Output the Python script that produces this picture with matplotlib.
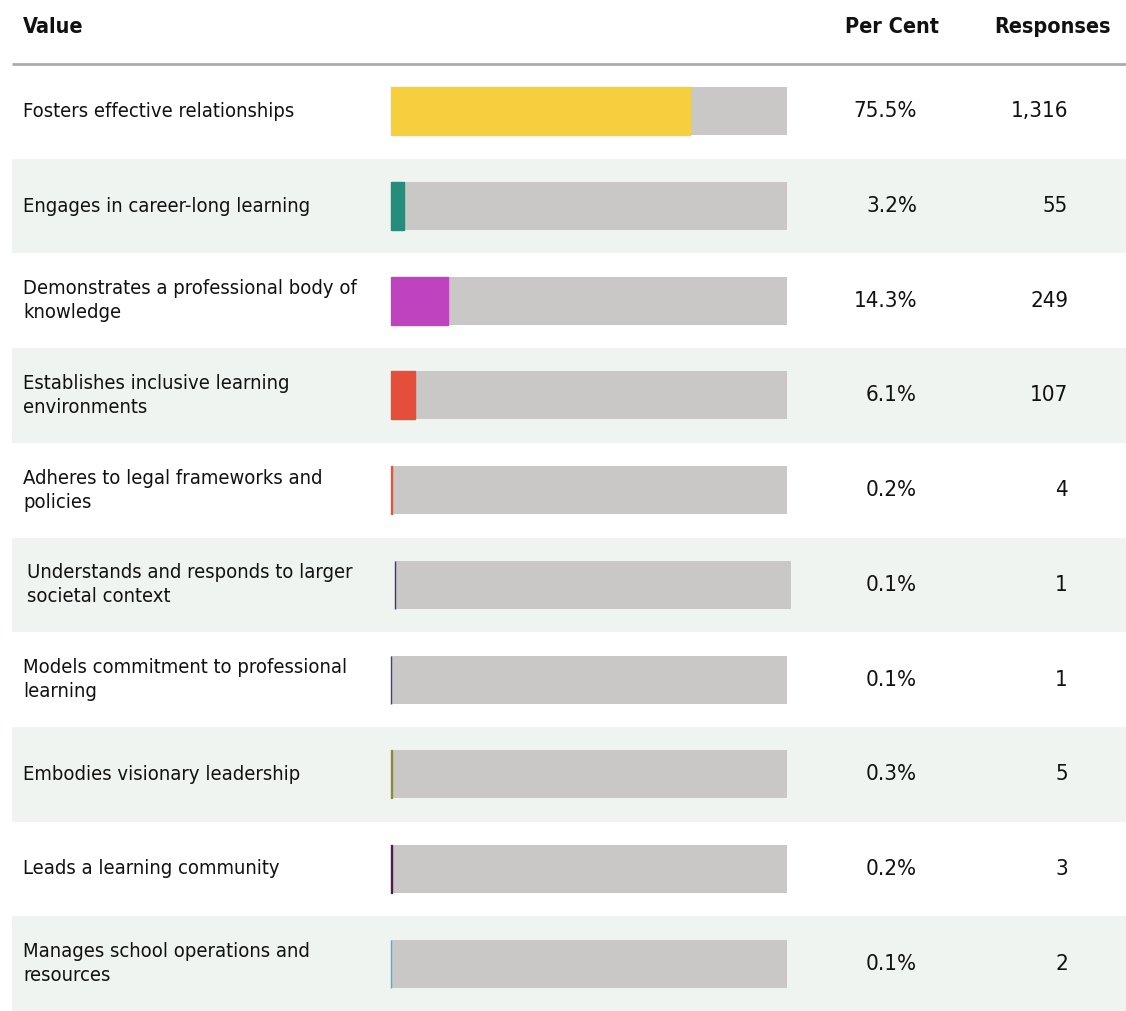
import matplotlib
matplotlib.use("Agg")
import matplotlib.pyplot as plt
from matplotlib.patches import Rectangle

# ---- data ----
values = [
    "Fosters effective relationships",
    "Engages in career-long learning",
    "Demonstrates a professional body of\nknowledge",
    "Establishes inclusive learning\nenvironments",
    "Adheres to legal frameworks and\npolicies",
    "Understands and responds to larger\nsocietal context",
    "Models commitment to professional\nlearning",
    "Embodies visionary leadership",
    "Leads a learning community",
    "Manages school operations and\nresources",
]
per_cent = [75.5, 3.2, 14.3, 6.1, 0.2, 0.1, 0.1, 0.3, 0.2, 0.1]
responses = [1316, 55, 249, 107, 4, 1, 1, 5, 3, 2]
colors = ["#F6CF3E", "#268C7B", "#BF42BF", "#E54E3A", "#D9583F",
          "#4B2C8C", "#3C3E9C", "#8A8C3A", "#4E1C4E", "#3DB5DA"]
headers = ["Value", "Per Cent", "Responses"]

# ---- layout (pixel units) ----
W, H = 1126, 1011
header_line_y = 64
row_h = 94.7
bar_x0, bar_w, bar_h = 391, 396, 48
label_x = 23
row_shift = [0, 0, 0, 0, 0, 4, 0, 0, 0, 0]
pct_right = 917
resp_right = 1068
shade = "#EFF4F0"
track = "#C9C8C6"
text_col = "#111111"

plt.rcParams["font.family"] = ["DejaVu Sans"]
plt.rcParams["font.stretch"] = "condensed"

fig = plt.figure(figsize=(W / 100, H / 100), dpi=100)
ax = fig.add_axes([0, 0, 1, 1])
ax.set_xlim(0, W)
ax.set_ylim(H, 0)
ax.axis("off")

hdr = dict(fontsize=15.5, fontweight="bold", va="center", color=text_col,
           fontstretch="condensed")
body = dict(fontsize=14.5, va="center", color=text_col,
            fontstretch="condensed")
num = dict(fontsize=16, va="center", color=text_col, ha="right",
           fontstretch="condensed")

# header row
ax.text(label_x, 27, headers[0], ha="left", **hdr)
ax.text(892, 27, headers[1], ha="center", **hdr)
ax.text(1053, 27, headers[2], ha="center", **hdr)
ax.plot([12, W], [header_line_y, header_line_y], color="#ABABAB", lw=2,
        solid_capstyle="butt")

for i, (lab, pct, n, c) in enumerate(zip(values, per_cent, responses, colors)):
    top = header_line_y + i * row_h
    yc = top + row_h / 2
    if i % 2 == 1:
        ax.add_patch(Rectangle((12, top), W - 12, row_h, facecolor=shade,
                               edgecolor="none", zorder=0))
    dx = row_shift[i]
    ax.text(label_x + dx, yc, lab, ha="left", linespacing=1.32, **body)
    # grey track and coloured fill
    ax.barh(yc, bar_w, left=bar_x0 + dx, height=bar_h, color=track,
            edgecolor="none", zorder=1)
    ax.barh(yc, pct / 100 * bar_w, left=bar_x0 + dx, height=bar_h, color=c,
            edgecolor=c, linewidth=1.0, zorder=2)
    ax.text(pct_right, yc, f"{pct:.1f}%", **num)
    ax.text(resp_right, yc, f"{n:,}", **num)

fig.savefig("out.png", dpi=100)
